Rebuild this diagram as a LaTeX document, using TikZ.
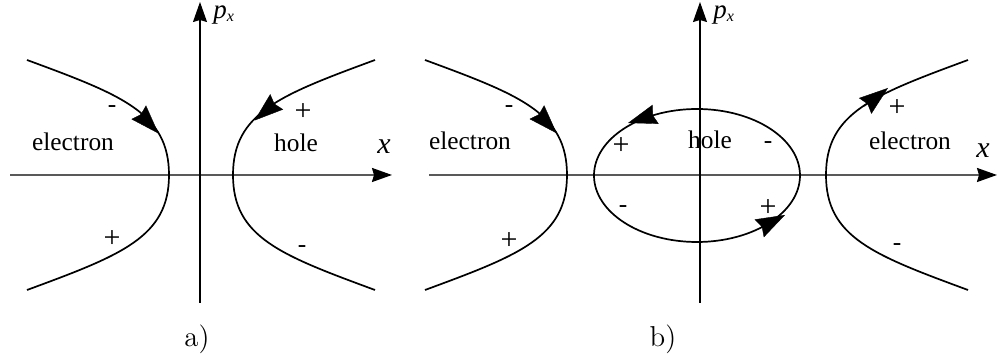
\documentclass[tikz,border=0pt]{standalone}
\usepackage{fontspec}
\newfontfamily\tnr{Liberation Serif}
\usetikzlibrary{arrows.meta}
\begin{document}
\begin{tikzpicture}[x=0.5pt,y=-0.5pt,
  curve/.style={line width=0.85pt},
  xaxis/.style={line width=0.9pt, draw=black!65, -{Stealth[length=10pt,width=7pt,inset=1pt,color=black]}},
  yaxis/.style={line width=0.6pt, -{Stealth[length=10pt,width=7pt,inset=1pt]}},
  head/.style={line width=0.2pt, -{Stealth[length=14.5pt,width=10pt,inset=1.5pt]}},
  lbl/.style={font=\tnr\fontsize{12.7}{14}\selectfont, inner sep=0pt, anchor=base},
  plus/.style={font=\tnr\fontsize{15}{16}\selectfont, inner sep=0pt, anchor=base},
  axlbl/.style={font=\tnr\itshape\fontsize{15}{16}\selectfont, inner sep=0pt, anchor=base},
  plbl/.style={font=\tnr\itshape\fontsize{13.5}{14}\selectfont, inner sep=0pt, anchor=base west},
  captxt/.style={font=\fontsize{14.4}{16}\selectfont, inner sep=0pt, anchor=base}]
\useasboundingbox (0,0) rectangle (998,362);

% ---------------- panel a ----------------
\coordinate (axL) at (10,175);
\coordinate (axR) at (392,175);
\coordinate (ayB) at (200,303);
\coordinate (ayT) at (200,2);
\draw[xaxis] (axL) -- (axR);
\draw[yaxis] (ayB) -- (ayT);
\node[plbl] (pxa) at (213,18.5) {p\raisebox{-1.5pt}{\fontsize{8}{8}\selectfont x}};
\node[axlbl] (xa) at (384,154) {x};

\draw[curve] (27,60) .. controls (122,95) and (169,113) .. (169,175)
             .. controls (169,237) and (122,255) .. (27,290);
\draw[curve] (375,60) .. controls (280,95) and (233,113) .. (233,175)
             .. controls (233,237) and (280,255) .. (375,290);

\coordinate (a1b) at (140,113.7); \coordinate (a1t) at (158.5,133.5);
\coordinate (a2b) at (273.5,104.5); \coordinate (a2t) at (254.5,120.5);
\draw[head] (a1b) -- (a1t);
\draw[head] (a2b) -- (a2t);

\node[lbl]  (ma1) at (112,113) {-};
\node[lbl]  (ea)  at (73,151) {electron};
\node[plus] (pa1) at (112,247.5) {+};
\node[plus] (pa2) at (303,120.5) {+};
\node[lbl]  (ha)  at (296,151.5) {hole};
\node[lbl]  (ma2) at (302,252.7) {-};
\node[captxt] (capa) at (197,347) {a)};

% ---------------- panel b ----------------
\coordinate (bxL) at (429,175);
\coordinate (bxR) at (997,175);
\coordinate (byB) at (700,303);
\coordinate (byT) at (700,2);
\draw[xaxis] (bxL) -- (bxR);
\draw[yaxis] (byB) -- (byT);
\node[plbl] (pxb) at (713,18.5) {p\raisebox{-1.5pt}{\fontsize{8}{8}\selectfont x}};
\node[axlbl] (xb) at (983,158) {x};

\draw[curve] (425,60) .. controls (520,95) and (567,113) .. (567,175)
             .. controls (567,237) and (520,255) .. (425,290);
\draw[curve] (968,60) .. controls (873,95) and (826,113) .. (826,175)
             .. controls (826,237) and (873,255) .. (968,290);
\draw[curve] (697,175.5) ellipse [x radius=103, y radius=66.5];

\coordinate (b1b) at (538.3,113.7); \coordinate (b1t) at (556.7,133.3);
\coordinate (b2b) at (655,114.5);   \coordinate (b2t) at (628,123);
\coordinate (b3b) at (758,229);     \coordinate (b3t) at (785,215);
\coordinate (b4b) at (864.5,106.5); \coordinate (b4t) at (888,88);
\draw[head] (b1b) -- (b1t);
\draw[head] (b2b) -- (b2t);
\draw[head] (b3b) -- (b3t);
\draw[head] (b4b) -- (b4t);

\node[lbl]  (mb1) at (509,112.7) {-};
\node[lbl]  (eb1) at (470,150) {electron};
\node[plus] (pb1) at (509,249.5) {+};
\node[plus] (pb2) at (621,154.5) {+};
\node[lbl]  (hb)  at (710,149) {hole};
\node[lbl]  (mb2) at (768,148.7) {-};
\node[lbl]  (mb3) at (623,212.7) {-};
\node[plus] (pb3) at (768,216.5) {+};
\node[plus] (pb4) at (897,116.5) {+};
\node[lbl]  (eb2) at (910,150) {electron};
\node[lbl]  (mb4) at (897,250.7) {-};
\node[captxt] (capb) at (663,347) {b)};
\end{tikzpicture}
\end{document}
